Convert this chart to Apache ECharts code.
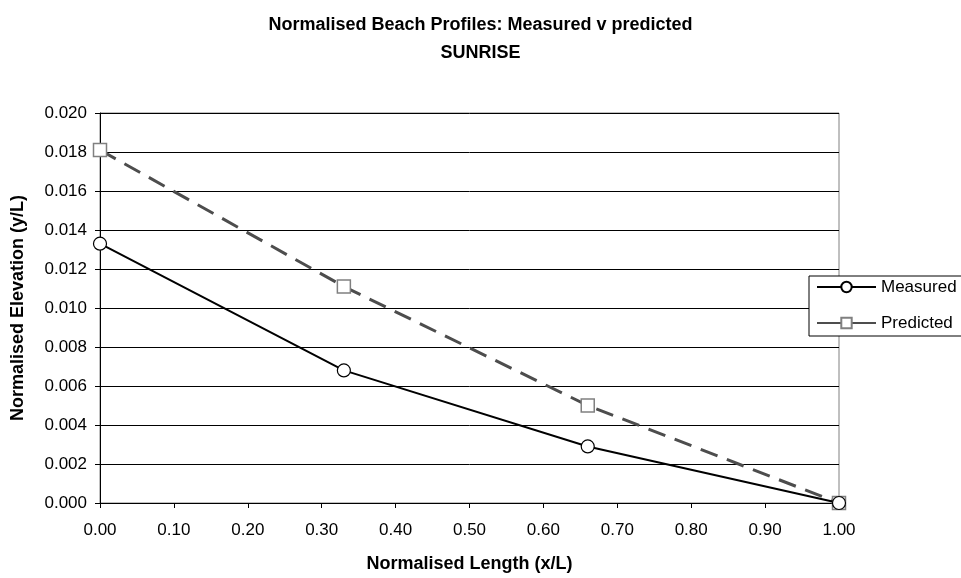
<!DOCTYPE html>
<html>
<head>
    <meta charset="utf-8">
    <script type="text/javascript" src="https://cdn.jsdelivr.net/npm/echarts@6/dist/echarts.min.js"></script>
    <style type="text/css">
        *{
            margin: 0;
            padding: 0;
        }
        #main{
            width: 961px;
            height: 578px;
            background: #fff;
        }
    </style>
</head>
<body>
<div id="main"></div>
<script type="text/javascript">
    // normalised length (x/L)
    var xValues = [0, 0.33, 0.66, 1.0];
    // normalised elevation (y/L)
    var measured = [0.0133, 0.0068, 0.0029, 0.0000];
    var predicted = [0.0181, 0.0111, 0.0050, 0.0000];

    function pairs(xs, ys) {
        var out = [];
        for (var i = 0; i < xs.length; i++) {
            out.push([xs[i], ys[i]]);
        }
        return out;
    }

    var font = 'Liberation Sans, Arial, sans-serif';

    var myChart = echarts.init(document.getElementById('main'));
    var option = {
        backgroundColor: '#fff',
        animation: false,
        title: {
            text: 'Normalised Beach Profiles: Measured v predicted\nSUNRISE',
            left: 'center',
            top: 6,
            textStyle: {
                fontFamily: font,
                fontSize: 18,
                fontWeight: 'bold',
                color: '#000',
                lineHeight: 28
            }
        },
        grid: {
            left: 100,
            right: 122,
            top: 113,
            bottom: 72,
            show: true,
            borderColor: '#808080',
            borderWidth: 1
        },
        legend: {
            orient: 'vertical',
            left: 809,
            top: 276,
            // box runs off the right edge, as in the original
            padding: [2, 30, 4, 7],
            itemGap: 18,
            itemWidth: 59,
            itemHeight: 13,
            borderColor: '#000',
            borderWidth: 1,
            borderRadius: 0,
            backgroundColor: '#fff',
            textStyle: {
                fontFamily: font,
                fontSize: 17,
                lineHeight: 18,
                color: '#000'
            },
            data: [
                {name: 'Measured'},
                {name: 'Predicted', lineStyle: {type: 'solid'}}
            ]
        },
        xAxis: {
            type: 'value',
            min: 0,
            max: 1,
            interval: 0.1,
            name: 'Normalised Length (x/L)',
            nameLocation: 'middle',
            nameGap: 52,
            nameTextStyle: {
                fontFamily: font,
                fontSize: 18,
                fontWeight: 'bold',
                color: '#000'
            },
            axisLine: {lineStyle: {color: '#000', width: 1}},
            axisTick: {show: true, length: 5, lineStyle: {color: '#000'}},
            axisLabel: {
                fontFamily: font,
                fontSize: 17,
                color: '#000',
                margin: 19,
                formatter: function (v) { return v.toFixed(2); }
            },
            splitLine: {show: false}
        },
        yAxis: {
            type: 'value',
            min: 0,
            max: 0.02,
            interval: 0.002,
            name: 'Normalised Elevation (y/L)',
            nameLocation: 'middle',
            nameGap: 73,
            nameTextStyle: {
                fontFamily: font,
                fontSize: 18,
                fontWeight: 'bold',
                color: '#000'
            },
            axisLine: {show: true, lineStyle: {color: '#000', width: 1}},
            axisTick: {show: true, length: 5, lineStyle: {color: '#000'}},
            axisLabel: {
                fontFamily: font,
                fontSize: 17,
                color: '#000',
                margin: 13,
                formatter: function (v) { return v.toFixed(3); }
            },
            splitLine: {show: true, lineStyle: {color: '#000', width: 1}}
        },
        series: [
            {
                name: 'Measured',
                type: 'line',
                data: pairs(xValues, measured),
                symbol: 'circle',
                symbolSize: 13,
                lineStyle: {color: '#000', width: 2},
                itemStyle: {color: '#fff', borderColor: '#000', borderWidth: 1.2},
                z: 3
            },
            {
                name: 'Predicted',
                type: 'line',
                data: pairs(xValues, predicted),
                symbol: 'rect',
                symbolSize: 13,
                lineStyle: {color: '#4d4d4d', width: 3, type: [18, 10]},
                itemStyle: {color: '#fff', borderColor: '#808080', borderWidth: 1.5},
                z: 2
            }
        ]
    };
    myChart.setOption(option);
</script>
</body>
</html>
